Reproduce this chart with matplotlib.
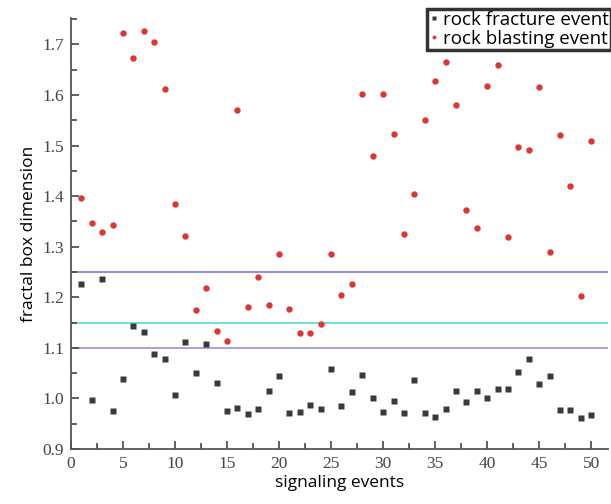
import numpy as np
import matplotlib.pyplot as plt
from matplotlib.ticker import MultipleLocator, FormatStrFormatter

events = np.arange(1, 51)

# fractal box dimension of rock fracture events
fracture = [1.226, 0.997, 1.236, 0.975, 1.038, 1.143, 1.131, 1.088, 1.078, 1.007,
            1.111, 1.050, 1.108, 1.030, 0.975, 0.981, 0.969, 0.979, 1.015, 1.044,
            0.971, 0.973, 0.987, 0.979, 1.058, 0.985, 1.013, 1.046, 1.001, 0.973,
            0.995, 0.971, 1.036, 0.971, 0.963, 0.979, 1.015, 0.993, 1.015, 1.001,
            1.019, 1.019, 1.052, 1.078, 1.028, 1.044, 0.977, 0.977, 0.961, 0.967]

# fractal box dimension of rock blasting events
blasting = [1.396, 1.347, 1.329, 1.343, 1.722, 1.673, 1.726, 1.704, 1.611, 1.384,
            1.321, 1.175, 1.218, 1.133, 1.113, 1.570, 1.181, 1.240, 1.185, 1.285,
            1.177, 1.129, 1.129, 1.147, 1.285, 1.204, 1.226, 1.602, 1.479, 1.602,
            1.523, 1.325, 1.404, 1.550, 1.627, 1.665, 1.580, 1.372, 1.337, 1.617,
            1.659, 1.319, 1.497, 1.491, 1.615, 1.289, 1.521, 1.420, 1.202, 1.509]

thresholds = [1.25, 1.15, 1.10]
threshold_colors = ['#6f6fdc', '#45d6d6', '#8c8ce0']

fig = plt.figure(figsize=(6.11, 5.04), dpi=100)
ax = fig.add_axes([0.116, 0.109, 0.879, 0.855])

for t, c in zip(thresholds, threshold_colors):
    ax.axhline(t, color=c, lw=1.1, zorder=1)

ax.plot(events, fracture, 's', color='#3a3a3a', ms=4.8, mec='none',
        label='rock fracture event', zorder=3)
ax.plot(events, blasting, 'o', color='#e03535', ms=4.6, mec='none',
        label='rock blasting event', zorder=3)

ax.set_xlim(0, 51.6)
ax.set_ylim(0.9, 1.752)
ax.xaxis.set_major_locator(MultipleLocator(5))
ax.xaxis.set_minor_locator(MultipleLocator(2.5))
ax.yaxis.set_major_locator(MultipleLocator(0.1))
ax.yaxis.set_minor_locator(MultipleLocator(0.05))
ax.yaxis.set_major_formatter(FormatStrFormatter('%.1f'))

for s in ['top', 'right']:
    ax.spines[s].set_visible(False)
for s in ['left', 'bottom']:
    ax.spines[s].set_color('#555555')
    ax.spines[s].set_linewidth(1.3)

ax.tick_params(which='both', direction='in', color='#444444', width=1.2)
ax.tick_params(which='major', length=6, labelsize=12.5, pad=5)
ax.tick_params(which='minor', length=4)
for lab in ax.get_xticklabels() + ax.get_yticklabels():
    lab.set_family('Liberation Serif')
    lab.set_color('#444444')

ax.set_xlabel('signaling events', fontsize=12.5, family='Open Sans', labelpad=2)
ax.set_ylabel('fractal box dimension', fontsize=12.5, family='Open Sans', labelpad=4)

leg = fig.legend(loc='upper right', bbox_to_anchor=(1.0, 0.982),
                 prop={'family': 'Open Sans', 'size': 13.5},
                 frameon=True, fancybox=False, handlelength=0.5,
                 handletextpad=0.25, borderpad=0.1, labelspacing=0.05,
                 markerscale=0.6, borderaxespad=0)
leg.get_frame().set_edgecolor('black')
leg.get_frame().set_linewidth(2.5)

fig.savefig('out.png', dpi=100)
